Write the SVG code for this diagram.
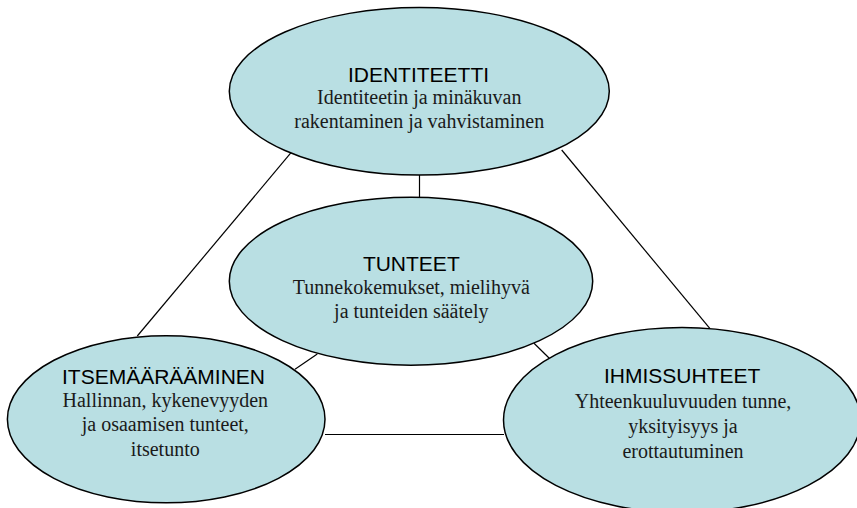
<svg xmlns="http://www.w3.org/2000/svg" width="857" height="508" viewBox="0 0 857 508">
<style>
.node{fill:#b9dfe3;stroke:#000;stroke-width:1.5}
.conn line{stroke:#000;stroke-width:1.2}
.t{font-family:"Liberation Sans",Arial,sans-serif;font-size:21px;fill:#000;text-anchor:middle}
.b{font-family:"Liberation Serif","Times New Roman",serif;font-size:20px;fill:#1a1a1a;text-anchor:middle}
</style>
<rect width="857" height="508" fill="#fff"/>
<g id="connectors" class="conn">
<line x1="292.7" y1="150.7" x2="137.3" y2="336"/>
<line x1="561.7" y1="150" x2="710" y2="328.7"/>
<line x1="419.5" y1="175" x2="419.5" y2="197.5"/>
<line x1="295" y1="369.3" x2="317.3" y2="354"/>
<line x1="534" y1="343.3" x2="549.3" y2="358.3"/>
<line x1="325" y1="434.5" x2="504" y2="434.5"/>
</g>
<g id="identiteetti">
<ellipse class="node" cx="419.3" cy="91.3" rx="190" ry="83.8"/>
<text class="t" x="418.5" y="81.7">IDENTITEETTI</text>
<text class="b" x="419.3" y="103.5">Identiteetin ja minäkuvan</text>
<text class="b" x="419.3" y="127.5">rakentaminen ja vahvistaminen</text>
</g>
<g id="tunteet">
<ellipse class="node" cx="411" cy="281.2" rx="181.7" ry="84"/>
<text class="t" x="411.3" y="270.7">TUNTEET</text>
<text class="b" x="411.3" y="294">Tunnekokemukset, mielihyvä</text>
<text class="b" x="411.3" y="317.5">ja tunteiden säätely</text>
</g>
<g id="itsemaaraaminen">
<ellipse class="node" cx="166.2" cy="419.3" rx="158.8" ry="83.5"/>
<text class="t" x="163.5" y="384">ITSEMÄÄRÄÄMINEN</text>
<text class="b" x="165.3" y="406.5">Hallinnan, kykenevyyden</text>
<text class="b" x="165.3" y="431">ja osaamisen tunteet,</text>
<text class="b" x="165.3" y="455.5">itsetunto</text>
</g>
<g id="ihmissuhteet">
<ellipse class="node" cx="682" cy="420" rx="178.5" ry="92.5"/>
<text class="t" x="682.2" y="382.7">IHMISSUHTEET</text>
<text class="b" x="683" y="408">Yhteenkuuluvuuden tunne,</text>
<text class="b" x="683" y="433">yksityisyys ja</text>
<text class="b" x="683" y="457.5">erottautuminen</text>
</g>
</svg>
